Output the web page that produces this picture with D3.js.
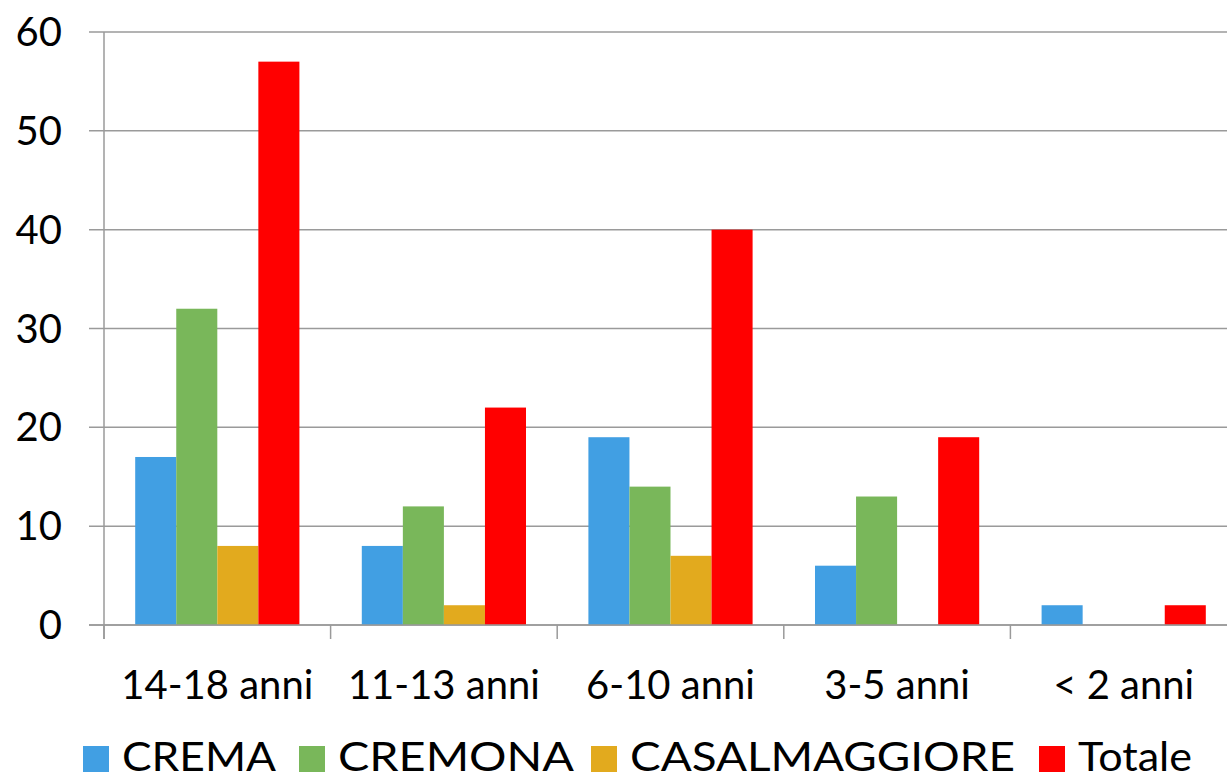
<!DOCTYPE html>
<html><head><meta charset="utf-8">
<script src="https://cdn.jsdelivr.net/npm/d3@7"></script>
<style>html,body{margin:0;padding:0;background:#fff;overflow:hidden}svg{display:block}</style>
</head><body>
<svg id="c" width="1227" height="779"></svg>
<script>
const categories = ["14-18 anni", "11-13 anni", "6-10 anni", "3-5 anni", "< 2 anni"];
const seriesNames = ["CREMA", "CREMONA", "CASALMAGGIORE", "Totale"];
const crema = [17, 8, 19, 6, 2];
const cremona = [32, 12, 14, 13, 0];
const casalmaggiore = [8, 2, 7, 0, 0];
const totale = [57, 22, 40, 19, 2];
const yTicks = [0, 10, 20, 30, 40, 50, 60];
const colors = ["#419fe3", "#79b75a", "#e2aa1e", "#ff0000"];

const seriesValues = [crema, cremona, casalmaggiore, totale];
const svg = d3.select("#c");
const font = "Lato, 'Open Sans', sans-serif";
const L = 104, R = 1237, T = 32, B = 625;

const x0 = d3.scaleBand().domain(categories).range([L, R]).paddingInner(0).paddingOuter(0);
const x1 = d3.scaleBand().domain(seriesNames).range([0, x0.bandwidth()]).paddingInner(0).paddingOuter(0.76);
const y = d3.scaleLinear().domain([0, 60]).range([B, T]);

const gridColor = "#9a9a9a";
// gridlines
svg.append("g").selectAll("line").data(yTicks).join("line")
  .attr("x1", 89).attr("x2", R).attr("y1", d => y(d)).attr("y2", d => y(d))
  .attr("stroke", gridColor).attr("stroke-width", 1.5);

// bars
const rows = categories.map((c, i) => ({c, vals: seriesNames.map((s, j) => ({s, v: seriesValues[j][i], col: colors[j]}))}));
svg.append("g").selectAll("g").data(rows).join("g")
  .attr("transform", d => `translate(${x0(d.c)},0)`)
  .selectAll("rect").data(d => d.vals.filter(e => e.v > 0)).join("rect")
  .attr("x", d => x1(d.s)).attr("width", x1.bandwidth())
  .attr("y", d => y(d.v)).attr("height", d => y(0) - y(d.v))
  .attr("fill", d => d.col);

// axes lines
svg.append("line").attr("x1", L).attr("x2", L).attr("y1", T).attr("y2", 639)
  .attr("stroke", gridColor).attr("stroke-width", 1.5);
svg.append("line").attr("x1", 89).attr("x2", R).attr("y1", B).attr("y2", B)
  .attr("stroke", gridColor).attr("stroke-width", 1.5);
const bounds = categories.map(c => x0(c)).concat([R]);
svg.append("g").selectAll("line").data(bounds).join("line")
  .attr("x1", d => d).attr("x2", d => d).attr("y1", B).attr("y2", 639)
  .attr("stroke", gridColor).attr("stroke-width", 1.5);

// y labels
svg.append("g").selectAll("text").data(yTicks).join("text")
  .attr("x", 62).attr("y", d => y(d)).attr("dy", "0.35em")
  .attr("text-anchor", "end").attr("font-family", font).attr("font-size", 40)
  .attr("fill", "#000").text(d => d);

// category labels
svg.append("g").selectAll("text").data(categories).join("text")
  .attr("x", d => x0(d) + x0.bandwidth() / 2).attr("y", 699)
  .attr("text-anchor", "middle").attr("font-family", font).attr("font-size", 40)
  .attr("fill", "#000").text(d => d);

// legend
const legX = [83, 299, 591, 1039];
const legW = [154, 236, 385, 114];
const lg = svg.append("g").selectAll("g").data(seriesNames).join("g")
  .attr("transform", (d, i) => `translate(${legX[i]},746)`);
lg.append("rect").attr("width", 26).attr("height", 26).attr("fill", (d, i) => colors[i]);
lg.append("text").attr("x", 39).attr("y", 25).attr("font-family", font).attr("font-size", 41)
  .attr("textLength", (d, i) => legW[i]).attr("lengthAdjust", "spacingAndGlyphs")
  .attr("fill", "#000").text(d => d);
</script>
</body></html>
